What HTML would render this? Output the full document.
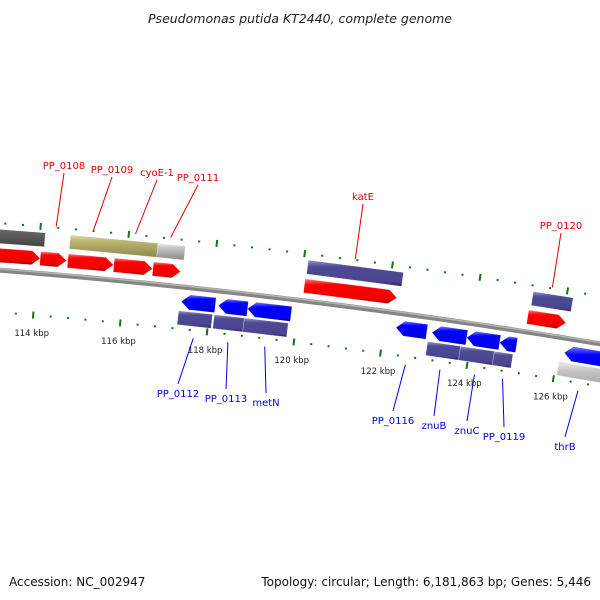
<!DOCTYPE html>
<html><head><meta charset="utf-8"><style>
html,body{margin:0;padding:0;background:#fff;}
svg{display:block;font-family:"DejaVu Sans","Liberation Sans",sans-serif;}
</style></head><body>
<svg id="map" width="600" height="600" viewBox="0 0 600 600">
<defs>
<linearGradient id="gRed" x1="0" y1="0" x2="0" y2="1"><stop offset="0" stop-color="#ff7a7a"/><stop offset="0.25" stop-color="#ff0000"/><stop offset="0.8" stop-color="#f20000"/><stop offset="1" stop-color="#a00000"/></linearGradient>
<linearGradient id="gBlue" x1="0" y1="0" x2="0" y2="1"><stop offset="0" stop-color="#7a7aff"/><stop offset="0.25" stop-color="#0000ff"/><stop offset="0.8" stop-color="#0000ee"/><stop offset="1" stop-color="#000099"/></linearGradient>
<linearGradient id="gPurple" x1="0" y1="0" x2="0" y2="1"><stop offset="0" stop-color="#9a96c8"/><stop offset="0.25" stop-color="#4f4a96"/><stop offset="0.8" stop-color="#4a4590"/><stop offset="1" stop-color="#2c2866"/></linearGradient>
<linearGradient id="gDark" x1="0" y1="0" x2="0" y2="1"><stop offset="0" stop-color="#aaa"/><stop offset="0.25" stop-color="#6a6a6a"/><stop offset="1" stop-color="#444"/></linearGradient>
<linearGradient id="gKhaki" x1="0" y1="0" x2="0" y2="1"><stop offset="0" stop-color="#e0dcaa"/><stop offset="0.25" stop-color="#bdb874"/><stop offset="1" stop-color="#8c8850"/></linearGradient>
<linearGradient id="gLight" x1="0" y1="0" x2="0" y2="1"><stop offset="0" stop-color="#eee"/><stop offset="0.25" stop-color="#c8c8c8"/><stop offset="1" stop-color="#888"/></linearGradient>
</defs>
<text x="300" y="23" text-anchor="middle" font-size="12.5" font-style="italic" fill="#222">Pseudomonas putida KT2440, complete genome</text>
<g id="ticks"></g>
<g id="backbone"></g>
<g id="feats"></g>
<g id="labels"></g>
<text x="9" y="586" font-size="12" fill="#111">Accession: NC_002947</text>
<text x="591" y="586" font-size="12" fill="#111" text-anchor="end">Topology: circular; Length: 6,181,863 bp; Genes: 5,446</text>
</svg>
<script>
// data (kbp)
const fwdStarts = [111.0, 114.05, 114.68, 115.73, 116.62, 120.08, 125.2];
const fwdEnds   = [114.05, 114.65, 115.72, 116.61, 117.25, 122.2, 126.08];
const revStarts = [117.34, 118.19, 118.86, 122.27, 123.1, 123.9, 124.66, 126.15];
const revEnds   = [118.12, 118.86, 119.86, 122.98, 123.9, 124.66, 125.05, 129.0];
const topStarts = [111.0, 114.69, 116.68, 120.1, 125.24];
const topEnds   = [114.12, 116.68, 117.3, 122.27, 126.15];
const topKinds  = ["dark", "khaki", "light", "purple", "purple"];
const botStarts = [117.3, 118.12, 118.81, 123.03, 123.79, 124.57, 126.06];
const botEnds   = [118.08, 118.81, 119.82, 123.79, 124.57, 125.0, 129.0];
const botKinds  = ["purple","purple","purple","purple","purple","purple","light"];
const tickLabels = [114, 116, 118, 120, 122, 124, 126];
const labelNames = ["PP_0108","PP_0109","cyoE-1","PP_0111","katE","PP_0120","PP_0112","PP_0113","metN","PP_0116","znuB","znuC","PP_0119","thrB"];
const labelGeneKbp = [114.35, 115.2, 116.15, 116.95, 121.15, 125.65, 117.7, 118.5, 119.35, 122.6, 123.4, 124.2, 124.85, 126.6];
const labelStrand = [1,1,1,1,1,1,-1,-1,-1,-1,-1,-1,-1,-1];
// layout
const labelPos = [[64,169],[112,173],[157,176],[198,181],[363,200],[561,229],[178,397],[226,402],[266,406],[393,424],[434,429],[467,434],[504,440],[565,450]];
const CX=-542, CY=7172, R0=6923, PHI0=0.08369, DPHI=0.006348;
const NS="http://www.w3.org/2000/svg";
function phi(k){return PHI0+(k-114)*DPHI;}
function pt(k,off){const r=R0+off,a=phi(k);return [CX+r*Math.sin(a), CY-r*Math.cos(a)];}
function mk(tag,attrs,parent){const e=document.createElementNS(NS,tag);for(const k in attrs)e.setAttribute(k,attrs[k]);parent.appendChild(e);return e;}
const gT=document.getElementById('ticks'), gB=document.getElementById('backbone'), gF=document.getElementById('feats'), gL=document.getElementById('labels');
// backbone
let pts=[];for(let k=110;k<=130;k+=0.25){pts.push(pt(k,0).join(','));}
let bb=mk('polyline',{points:pts.join(' '),fill:'none',stroke:'#858585','stroke-width':5},gB);


pts=[];for(let k=110;k<=130;k+=0.25){pts.push(pt(k,1.3).join(','));}
let bh=mk('polyline',{points:pts.join(' '),fill:'none',stroke:'#b5b5b5','stroke-width':1.5},gB);


// ticks
for(let i=0;i<=50;i++){
  const k=110+i*0.4, major=(i%5===0);
  [47,-42].forEach(off=>{
    const a=pt(k,off+(major?3.5:1)), b=pt(k,off-(major?3.5:1));
    const t=mk('line',{x1:a[0],y1:a[1],x2:b[0],y2:b[1],stroke:'#0a7a0a','stroke-width':2},gT);
    
    
  });
}
tickLabels.forEach(k=>{
  const p=pt(k,-60);
  const t=mk('text',{x:p[0],y:p[1]+3,'text-anchor':'middle','font-size':8.5,fill:'#222'},gT);
  t.textContent=k+' kbp';
  
  
});
// features
const HEAD=0.19;
function arrow(s,e,o1,o2,dir,fill,name){
  let P;
  if(dir>0){const h=Math.max(s,e-HEAD);P=[pt(s,o2),pt(h,o2),pt(e,(o1+o2)/2),pt(h,o1),pt(s,o1)];}
  else if(dir<0){const h=Math.min(e,s+HEAD);P=[pt(s,(o1+o2)/2),pt(h,o2),pt(e,o2),pt(e,o1),pt(h,o1)];}
  else{P=[pt(s,o2),pt(e,o2),pt(e,o1),pt(s,o1)];}
  const el=mk('polygon',{points:P.map(p=>p.join(',')).join(' '),fill:fill,stroke:'rgba(255,255,255,0.5)','stroke-width':0.5},gF);
  
  
}
const kindFill={dark:'url(#gDark)',khaki:'url(#gKhaki)',light:'url(#gLight)',purple:'url(#gPurple)'};
topStarts.forEach((s,i)=>arrow(s,topEnds[i],27,41,0,kindFill[topKinds[i]],'top-gene-bar'));
fwdStarts.forEach((s,i)=>arrow(s,fwdEnds[i],8,22,1,'url(#gRed)','forward-cds'));
revStarts.forEach((s,i)=>arrow(s,revEnds[i],-22,-7,-1,'url(#gBlue)','reverse-cds'));
botStarts.forEach((s,i)=>arrow(s,botEnds[i],-38,-24,0,kindFill[botKinds[i]],'bottom-gene-bar'));
// labels
labelNames.forEach((n,i)=>{
  const st=labelStrand[i]; const col=st>0?'#e00000':'#0000ee';
  const a=pt(labelGeneKbp[i], st>0?48:-50);
  const lp=labelPos[i];
  const ly=st>0?lp[1]+4:lp[1]-13;
  const ln=mk('line',{x1:a[0],y1:a[1],x2:lp[0],y2:ly,stroke:col,'stroke-width':1},gL);
  
  
  const t=mk('text',{x:lp[0],y:lp[1],'text-anchor':'middle','font-size':10,fill:col},gL);
  t.textContent=n;
  
  
});
</script>
</body></html>
